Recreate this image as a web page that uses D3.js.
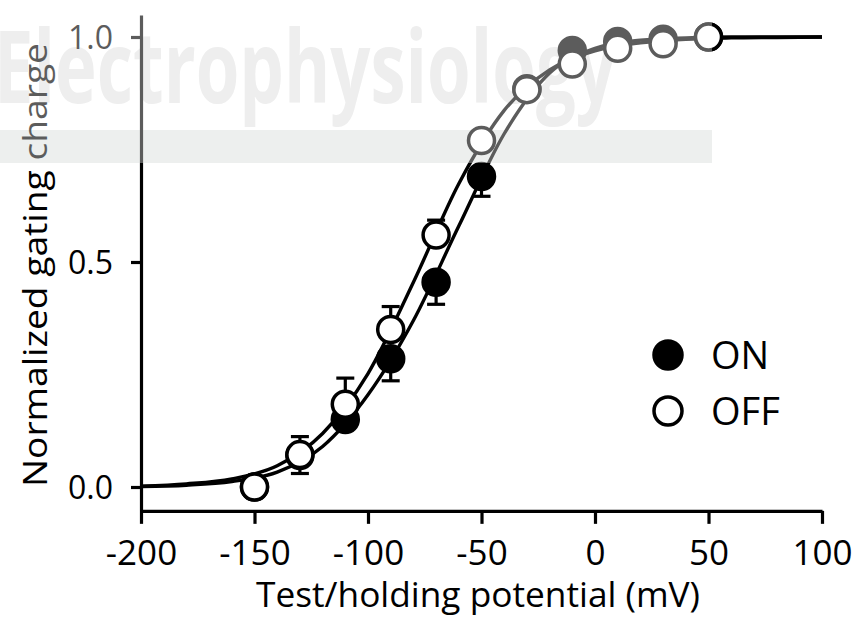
<!DOCTYPE html>
<html>
<head>
<meta charset="utf-8">
<script src="https://cdn.jsdelivr.net/npm/d3@7"></script>
<style>
  html, body { margin: 0; padding: 0; background: #fff; }
  svg { display: block; }
  text { font-family: "Open Sans", "Noto Sans", sans-serif; fill: #000; }
</style>
</head>
<body>
<svg id="chart" width="856" height="621"></svg>
<script>
// Test/holding potentials (mV) at which charge was measured
const voltages = [-150, -130, -110, -90, -70, -50, -30, -10, 10, 30, 50];

// Normalized ON gating charge (mean, SEM)
const onMean = [0.0, 0.07, 0.15, 0.285, 0.455, 0.69, 0.885, 0.97, 0.99, 0.995, 1.0];
const onErr  = [0.01, 0.04, 0.02, 0.049, 0.049, 0.044, 0.02, 0.01, 0.01, 0.005, 0.0];

// Normalized OFF gating charge (mean, SEM)
const offMean = [0.0, 0.072, 0.184, 0.35, 0.56, 0.77, 0.883, 0.94, 0.975, 0.985, 1.0];
const offErr  = [0.01, 0.04, 0.058, 0.051, 0.033, 0.02, 0.02, 0.01, 0.01, 0.005, 0.0];

// Boltzmann fit curves, sampled
const fitV   = [-200, -180, -160, -140, -120, -100, -80, -60, -40, -20, 0, 20, 40, 60, 80, 100];
const onFit  = [0.001, 0.004, 0.012, 0.033, 0.09, 0.205, 0.37, 0.58, 0.785, 0.92, 0.975, 0.993, 0.998, 1.0, 1.0, 1.0];
const offFit = [0.002, 0.007, 0.018, 0.047, 0.119, 0.252, 0.455, 0.674, 0.837, 0.927, 0.969, 0.987, 0.995, 0.998, 0.999, 1.0];

// Axes
const xTicks = [-200, -150, -100, -50, 0, 50, 100];
const xTickLabels = ["-200", "-150", "-100", "-50", "0", "50", "100"];
const yTicks = [0, 0.5, 1.0];
const yTickLabels = ["0.0", "0.5", "1.0"];
const yAxisExtent = [-0.053, 1.049];

const seriesNames = ["ON", "OFF"];
const xTitle = "Test/holding potential (mV)";
const yTitle = "Normalized gating charge";
const watermark = "Electrophysiology";

const svg = d3.select("#chart");

const x = d3.scaleLinear().domain([-200, 100]).range([141, 822]);
const y = d3.scaleLinear().domain([0, 1]).range([487, 37]);
const yAxisScale = d3.scaleLinear().domain(yAxisExtent).range(yAxisExtent.map(y));

// faint background lettering and band
const bg = svg.append("g");
bg.append("rect").attr("x", 0).attr("y", 130).attr("width", 712).attr("height", 33)
  .attr("fill", "#e3e7e5");
bg.append("text")
  .attr("x", -6).attr("y", 103)
  .attr("font-size", 100).attr("font-weight", 700)
  .attr("textLength", 622).attr("lengthAdjust", "spacingAndGlyphs")
  .style("fill", "#e4e4e4")
  .text(watermark);

// x axis
const xAxis = svg.append("g")
  .attr("transform", `translate(0,${yAxisScale(yAxisExtent[0])})`)
  .call(d3.axisBottom(x).tickValues(xTicks).tickFormat((d, i) => xTickLabels[i])
    .tickSize(13).tickSizeOuter(0));
xAxis.select(".domain").attr("stroke", "#000").attr("stroke-width", 3.2);
xAxis.selectAll(".tick line").attr("stroke", "#000").attr("stroke-width", 3.2);
xAxis.selectAll(".tick text").attr("y", 54).attr("dy", 0)
  .attr("font-size", 35).style("font-family", "'Open Sans', sans-serif");

// y axis
const yAxis = svg.append("g")
  .attr("transform", `translate(${x(-200)},0)`)
  .call(d3.axisLeft(yAxisScale).tickValues(yTicks).tickFormat((d, i) => yTickLabels[i])
    .tickSize(10).tickSizeOuter(0));
yAxis.select(".domain").attr("stroke", "#000").attr("stroke-width", 3.2);
yAxis.selectAll(".tick line").attr("stroke", "#000").attr("stroke-width", 3.2);
yAxis.selectAll(".tick text").attr("x", -28).attr("dy", "0.36em")
  .attr("font-size", 32).style("font-family", "'Open Sans', sans-serif");

// axis titles
svg.append("text")
  .attr("x", (256 + 700) / 2).attr("y", 607)
  .attr("text-anchor", "middle").attr("font-size", 35)
  .attr("textLength", 444).attr("lengthAdjust", "spacingAndGlyphs")
  .text(xTitle);
svg.append("text")
  .attr("transform", `translate(47,${(43 + 487) / 2}) rotate(-90)`)
  .attr("text-anchor", "middle").attr("font-size", 33)
  .attr("textLength", 444).attr("lengthAdjust", "spacingAndGlyphs")
  .text(yTitle);

// fit curves
const line = d3.line().x(d => x(d[0])).y(d => y(d[1])).curve(d3.curveMonotoneX);
[onFit, offFit].forEach(fit => {
  svg.append("path")
    .datum(fitV.map((v, i) => [v, fit[i]]))
    .attr("d", line)
    .attr("fill", "none").attr("stroke", "#000").attr("stroke-width", 3.4);
});

const R = 13;
const capW = 9;

function drawSeries(means, errs, dir, fill) {
  const g = svg.append("g");
  const pts = voltages.map((v, i) => ({ v, m: means[i], e: errs[i] }));
  // one-sided error bars
  const eb = g.selectAll(".eb").data(pts.filter(d => d.e > 0)).join("g");
  eb.append("line")
    .attr("x1", d => x(d.v)).attr("x2", d => x(d.v))
    .attr("y1", d => y(d.m)).attr("y2", d => y(d.m + dir * d.e))
    .attr("stroke", "#000").attr("stroke-width", 3.2);
  eb.append("line")
    .attr("x1", d => x(d.v) - capW).attr("x2", d => x(d.v) + capW)
    .attr("y1", d => y(d.m + dir * d.e)).attr("y2", d => y(d.m + dir * d.e))
    .attr("stroke", "#000").attr("stroke-width", 3.2);
  g.selectAll("circle").data(pts).join("circle")
    .attr("cx", d => x(d.v)).attr("cy", d => y(d.m)).attr("r", R)
    .attr("fill", fill).attr("stroke", "#000").attr("stroke-width", 3.5);
}
drawSeries(onMean, onErr, -1, "#000");
drawSeries(offMean, offErr, 1, "#fff");

// legend
const legend = svg.append("g");
const legendItems = [
  { name: seriesNames[0], fill: "#000", cy: 355 },
  { name: seriesNames[1], fill: "#fff", cy: 411 }
];
legendItems.forEach(it => {
  legend.append("circle").attr("cx", 668).attr("cy", it.cy).attr("r", R + 1)
    .attr("fill", it.fill).attr("stroke", "#000").attr("stroke-width", 3.5);
  legend.append("text").attr("x", 711).attr("y", it.cy).attr("dy", "0.36em")
    .attr("font-size", 38).text(it.name);
});

// pale wash over the top of the figure
svg.append("rect").attr("x", 0).attr("y", 0).attr("width", 712).attr("height", 163)
  .attr("fill", "#fff").attr("opacity", 0.36);
</script>
</body>
</html>
